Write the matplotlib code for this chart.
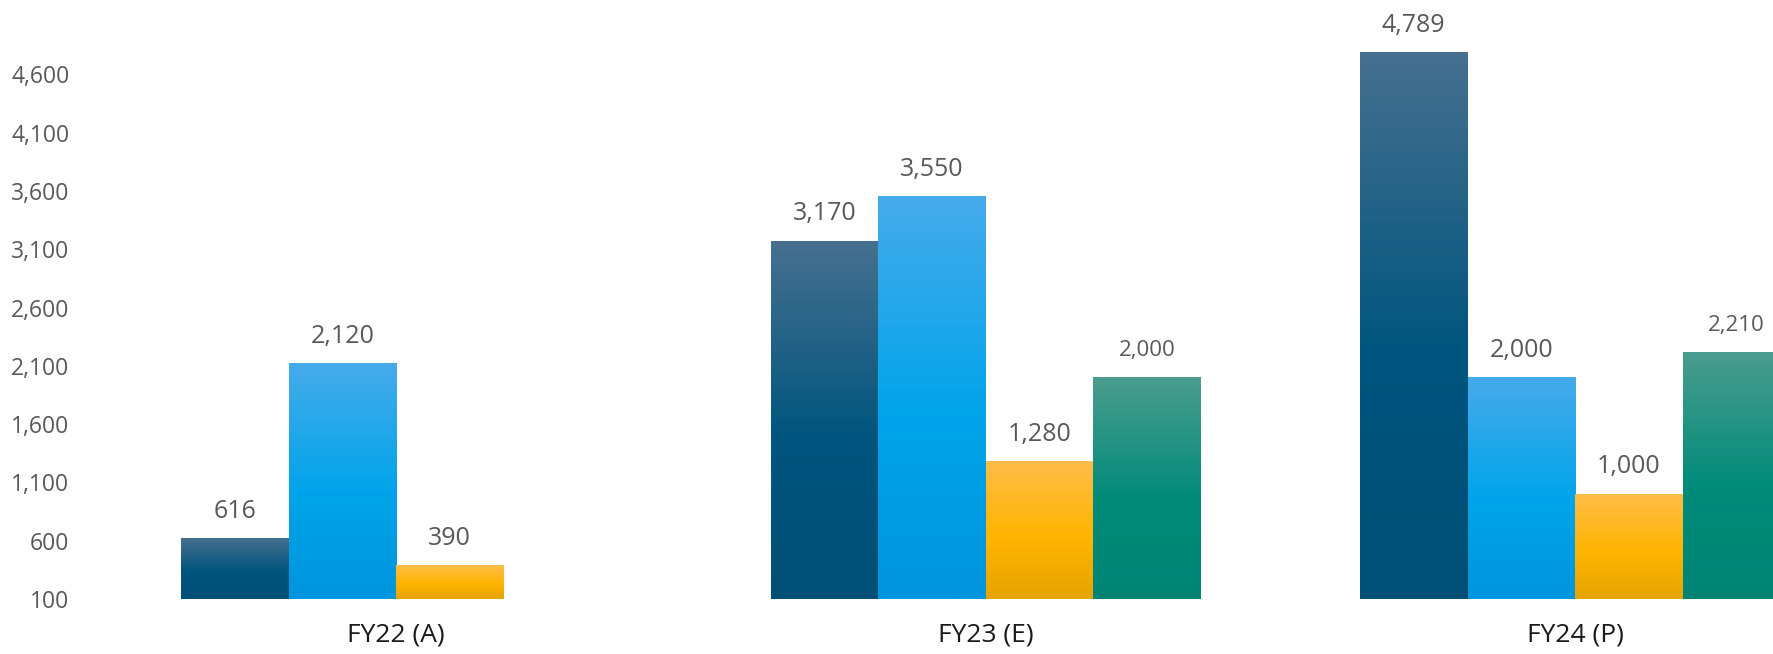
import numpy as np
import matplotlib.pyplot as plt
from matplotlib.colors import LinearSegmentedColormap

plt.rcParams['font.family'] = ['Open Sans', 'DejaVu Sans']

# data
categories = ["FY22 (A)", "FY23 (E)", "FY24 (P)"]
series_a = [616, 3170, 4789]
series_b = [2120, 3550, 2000]
series_c = [390, 1280, 1000]
series_d = [np.nan, 2000, 2210]
yticks = list(range(100, 4601, 500))

# gradient stops per series (top, middle, bottom)
grads = [
    ["#47708f", "#00557e", "#004f76"],
    ["#46abeb", "#00a4ea", "#0095dc"],
    ["#ffbd48", "#ffb500", "#e6a400"],
    ["#4b9d8e", "#008b79", "#008575"],
]
label_sizes = [18, 18, 18, 16]

fig = plt.figure(figsize=(17.73, 6.54), dpi=100)
ax = fig.add_axes([100 / 1773, 55 / 654, 1 - 100 / 1773, 1 - 55 / 654])

x = np.arange(len(categories))
w = 107.5 / 589.5
base = 100
grad = np.linspace(0, 1, 256).reshape(-1, 1)

for j, vals in enumerate([series_a, series_b, series_c, series_d]):
    vals = np.array(vals, dtype=float)
    pos = x + (j - 1.5) * w
    bars = ax.bar(pos, vals - base, width=w, bottom=base, facecolor="none",
                  edgecolor="none", linewidth=0)
    cmap = LinearSegmentedColormap.from_list(
        "g%d" % j, [(0, grads[j][0]), (0.55, grads[j][1]), (1, grads[j][2])])
    for b, v in zip(bars, vals):
        if np.isnan(v):
            continue
        x0, x1 = b.get_x(), b.get_x() + b.get_width()
        ax.imshow(grad, cmap=cmap, aspect="auto", extent=(x0, x1, base, v),
                  origin="upper", zorder=2)
        ax.annotate(f"{int(v):,}", (b.get_x() + b.get_width() / 2, v),
                    xytext=(0, 19.5), textcoords="offset points",
                    ha="center", va="center", fontsize=label_sizes[j],
                    color="#595959")

ax.set_xlim((100 - 396) / 589.5, (1773 - 396) / 589.5)
ax.set_ylim(base, 100 + 599 / 58.3 * 500)
ax.set_yticks(yticks)
ax.set_yticklabels([f"{t:,}" for t in yticks], fontsize=16.5, color="#595959")
ax.set_xticks(x)
ax.set_xticklabels(categories, fontsize=19, color="#1a1a1a")
ax.tick_params(axis="y", length=0, pad=22)
ax.tick_params(axis="x", length=0, pad=17)
for s in ax.spines.values():
    s.set_visible(False)

plt.savefig("out.png", dpi=100)
